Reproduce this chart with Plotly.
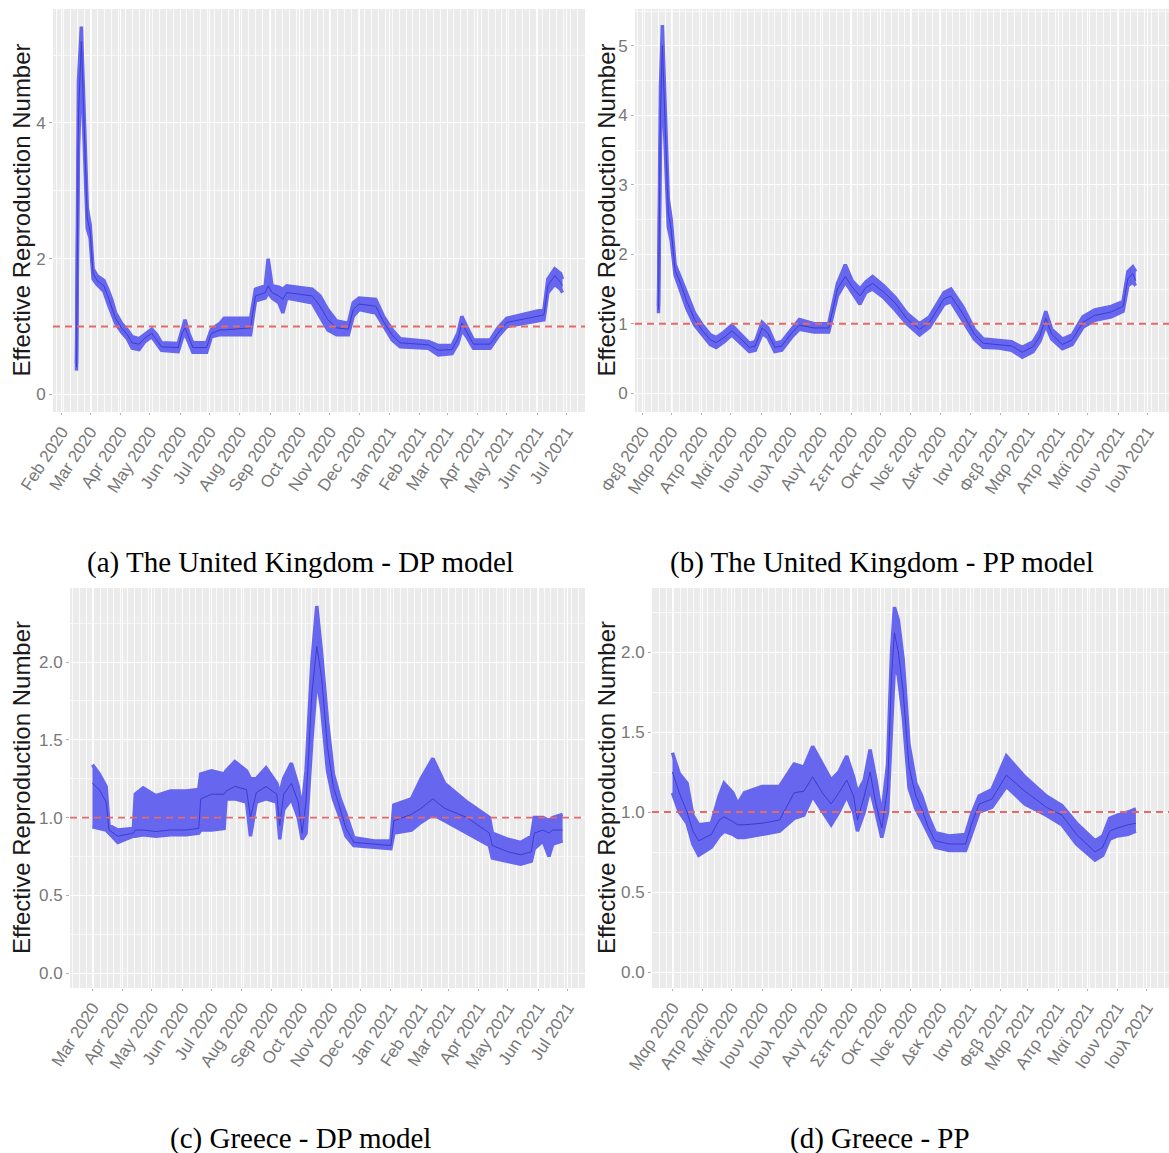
import plotly.graph_objects as go

# ---------------- data ----------------
A_dates = ["2020-02-16","2020-02-18","2020-02-21","2020-02-24","2020-02-27","2020-03-01","2020-03-04","2020-03-08",
           "2020-03-15","2020-03-19","2020-03-23","2020-03-27","2020-04-02","2020-04-08","2020-04-13","2020-04-20",
           "2020-04-26","2020-05-03","2020-05-08","2020-05-13","2020-05-30","2020-06-03","2020-06-06","2020-06-10",
           "2020-06-14","2020-06-28","2020-07-03","2020-07-12","2020-07-16","2020-08-12","2020-08-17","2020-08-27",
           "2020-08-30","2020-09-03","2020-09-10","2020-09-14","2020-09-18","2020-10-14","2020-10-22","2020-10-30",
           "2020-11-08","2020-11-20","2020-11-25","2020-12-01","2020-12-18","2020-12-26","2021-01-04","2021-01-12",
           "2021-02-10","2021-02-20","2021-03-06","2021-03-12","2021-03-16","2021-03-21","2021-03-28","2021-04-14",
           "2021-04-22","2021-05-01","2021-05-20","2021-06-08","2021-06-12","2021-06-19","2021-06-25","2021-06-27"]
A_lo = [0.35,3.6,4.9,3.5,2.45,2.3,1.7,1.62,1.52,1.35,1.2,1.05,0.92,0.82,0.68,0.66,0.78,0.85,0.75,0.65,0.63,0.82,0.9,0.75,
        0.62,0.62,0.85,0.88,0.88,0.88,1.38,1.42,1.5,1.42,1.35,1.2,1.42,1.35,1.15,0.95,0.88,0.88,1.15,1.25,1.2,1.0,0.8,0.7,
        0.68,0.58,0.6,0.75,0.95,0.85,0.68,0.68,0.85,1.0,1.05,1.1,1.5,1.62,1.55,1.5]
A_hi = [0.45,4.6,5.42,4.2,2.75,2.5,1.85,1.75,1.68,1.55,1.4,1.2,1.05,0.95,0.85,0.82,0.88,0.96,0.88,0.76,0.75,0.98,1.1,0.9,
        0.76,0.76,0.96,1.05,1.12,1.12,1.55,1.6,2.0,1.6,1.58,1.55,1.6,1.55,1.45,1.25,1.08,1.05,1.35,1.42,1.4,1.15,0.95,0.82,
        0.78,0.72,0.72,0.9,1.15,1.0,0.8,0.8,0.98,1.12,1.18,1.25,1.7,1.85,1.78,1.7]
A_mid = [0.4,4.1,5.2,3.85,2.6,2.4,1.78,1.68,1.6,1.45,1.3,1.12,0.98,0.88,0.76,0.74,0.83,0.9,0.8,0.7,0.69,0.9,0.98,0.82,
         0.69,0.69,0.9,0.95,0.95,0.98,1.45,1.5,1.6,1.5,1.45,1.4,1.5,1.45,1.3,1.1,0.98,0.96,1.25,1.33,1.3,1.07,0.87,0.76,
         0.73,0.65,0.66,0.82,1.05,0.92,0.74,0.74,0.9,1.06,1.12,1.17,1.6,1.75,1.65,1.6]

B_dates = ["2020-02-17","2020-02-19","2020-02-21","2020-02-24","2020-02-27","2020-03-01","2020-03-05","2020-03-10",
           "2020-03-17","2020-03-25","2020-04-02","2020-04-10","2020-04-16","2020-04-24","2020-05-02","2020-05-10",
           "2020-05-20","2020-05-26","2020-06-02","2020-06-08","2020-06-15","2020-06-22","2020-07-03","2020-07-10",
           "2020-07-25","2020-08-09","2020-08-18","2020-08-26","2020-09-02","2020-09-10","2020-09-16","2020-09-23",
           "2020-10-04","2020-10-16","2020-10-28","2020-11-10","2020-11-20","2020-12-05","2020-12-12","2020-12-24",
           "2021-01-05","2021-01-14","2021-01-30","2021-02-12","2021-02-23","2021-03-06","2021-03-13","2021-03-19",
           "2021-03-25","2021-04-05","2021-04-15","2021-04-26","2021-05-08","2021-05-25","2021-06-06","2021-06-11",
           "2021-06-16","2021-06-19"]
B_lo = [1.15,3.6,4.6,3.4,2.4,2.2,1.7,1.5,1.22,0.98,0.84,0.7,0.66,0.74,0.84,0.74,0.6,0.62,0.86,0.8,0.6,0.62,0.82,0.92,
        0.88,0.88,1.4,1.6,1.45,1.28,1.45,1.5,1.38,1.2,1.0,0.84,0.95,1.28,1.32,1.05,0.78,0.66,0.65,0.62,0.52,0.6,0.75,0.98,
        0.78,0.64,0.7,0.95,1.05,1.1,1.18,1.55,1.6,1.55]
B_hi = [1.25,4.4,5.3,4.0,2.8,2.5,1.85,1.68,1.42,1.15,0.98,0.84,0.8,0.88,0.98,0.86,0.72,0.74,1.02,0.94,0.72,0.74,0.94,1.06,
        1.0,1.0,1.58,1.85,1.62,1.5,1.6,1.68,1.55,1.38,1.15,1.0,1.1,1.45,1.5,1.25,0.92,0.78,0.76,0.74,0.66,0.74,0.9,1.18,
        0.92,0.78,0.84,1.1,1.2,1.25,1.32,1.75,1.82,1.75]
B_mid = [1.2,4.0,5.0,3.7,2.6,2.35,1.77,1.6,1.32,1.06,0.9,0.77,0.73,0.8,0.9,0.8,0.66,0.68,0.94,0.86,0.66,0.68,0.88,0.98,
         0.94,0.94,1.5,1.68,1.53,1.4,1.52,1.58,1.46,1.3,1.07,0.92,1.02,1.36,1.4,1.15,0.85,0.72,0.7,0.68,0.59,0.67,0.82,1.08,
         0.85,0.7,0.77,1.02,1.12,1.17,1.25,1.65,1.72,1.62]

C_dates = ["2020-03-01","2020-03-08","2020-03-15","2020-03-18","2020-03-27","2020-04-12","2020-04-14","2020-04-22",
           "2020-05-05","2020-05-20","2020-06-05","2020-06-18","2020-06-20","2020-07-01","2020-07-14","2020-07-16",
           "2020-07-25","2020-08-06","2020-08-10","2020-08-16","2020-08-26","2020-09-06","2020-09-09","2020-09-13",
           "2020-09-21","2020-09-28","2020-10-02","2020-10-06","2020-10-12","2020-10-17","2020-10-22","2020-10-28",
           "2020-11-03","2020-11-10","2020-11-16","2020-11-24","2020-12-15","2021-01-01","2021-01-04","2021-01-22",
           "2021-02-01","2021-02-13","2021-02-25","2021-03-20","2021-04-12","2021-04-15","2021-05-01","2021-05-14",
           "2021-05-25","2021-05-28","2021-06-06","2021-06-12","2021-06-16","2021-06-26"]
C_lo = [0.94,0.93,0.92,0.9,0.84,0.88,0.88,0.89,0.88,0.89,0.89,0.9,0.92,0.92,0.93,1.12,1.12,1.1,0.88,1.1,1.12,1.1,0.86,
        1.05,1.12,1.0,0.86,0.9,1.5,1.9,1.7,1.3,1.12,1.0,0.88,0.82,0.81,0.8,0.9,0.92,0.97,1.02,0.98,0.9,0.82,0.74,0.72,
        0.7,0.72,0.8,0.85,0.75,0.83,0.85]
C_hi = [1.34,1.28,1.2,0.95,0.92,0.93,1.15,1.19,1.14,1.17,1.17,1.18,1.28,1.3,1.28,1.3,1.36,1.3,1.25,1.25,1.32,1.22,1.15,
        1.25,1.35,1.2,1.05,1.3,2.0,2.36,2.05,1.62,1.28,1.12,1.02,0.87,0.85,0.85,1.08,1.12,1.25,1.38,1.22,1.1,1.0,0.9,0.86,
        0.84,0.88,1.0,1.0,0.98,1.0,1.02]
C_mid = [1.22,1.18,1.1,0.92,0.88,0.9,0.92,0.92,0.91,0.92,0.92,0.93,1.12,1.15,1.15,1.17,1.2,1.18,1.0,1.16,1.2,1.15,0.95,
         1.15,1.22,1.1,0.9,1.1,1.8,2.1,1.9,1.45,1.2,1.06,0.93,0.84,0.83,0.82,0.98,1.02,1.06,1.12,1.06,1.0,0.9,0.82,0.78,
         0.76,0.78,0.9,0.92,0.9,0.92,0.92]

D_dates = ["2020-03-01","2020-03-08","2020-03-16","2020-03-22","2020-03-28","2020-04-10","2020-04-18","2020-04-23",
           "2020-05-02","2020-05-07","2020-05-14","2020-06-01","2020-06-19","2020-07-04","2020-07-14","2020-07-23",
           "2020-08-02","2020-08-11","2020-08-19","2020-08-27","2020-09-03","2020-09-07","2020-09-14","2020-09-20",
           "2020-09-26","2020-10-02","2020-10-08","2020-10-12","2020-10-15","2020-10-19","2020-10-24","2020-10-30",
           "2020-11-06","2020-11-12","2020-11-19","2020-11-26","2020-12-10","2020-12-27","2021-01-02","2021-01-10",
           "2021-01-23","2021-02-07","2021-02-26","2021-03-20","2021-04-05","2021-04-20","2021-05-09","2021-05-17",
           "2021-05-24","2021-06-01","2021-06-12","2021-06-20"]
D_lo = [1.12,1.0,0.93,0.8,0.73,0.78,0.85,0.88,0.86,0.84,0.84,0.86,0.88,0.96,0.98,1.1,1.0,0.92,1.0,1.1,1.0,0.88,1.0,1.15,
        1.0,0.84,1.0,1.6,1.92,1.85,1.6,1.15,1.02,0.95,0.86,0.78,0.76,0.76,0.86,1.0,1.03,1.16,1.05,0.98,0.92,0.8,0.7,0.73,
        0.83,0.85,0.86,0.88]
D_hi = [1.37,1.24,1.18,0.98,0.92,0.93,1.1,1.18,1.12,1.05,1.12,1.16,1.16,1.3,1.28,1.41,1.3,1.2,1.25,1.35,1.22,1.12,1.2,
        1.39,1.2,0.98,1.3,2.0,2.28,2.2,1.95,1.42,1.18,1.1,0.97,0.87,0.85,0.86,0.98,1.1,1.14,1.35,1.22,1.1,1.04,0.93,0.82,
        0.85,0.96,0.98,1.0,1.02]
D_mid = [1.25,1.12,1.0,0.88,0.82,0.86,0.95,0.97,0.94,0.92,0.92,0.93,0.95,1.12,1.13,1.22,1.12,1.05,1.12,1.2,1.1,0.95,1.1,
         1.25,1.05,0.9,1.15,1.85,2.12,2.0,1.75,1.28,1.1,1.02,0.9,0.82,0.8,0.8,0.92,1.05,1.08,1.23,1.13,1.03,0.98,0.86,0.75,
         0.78,0.88,0.9,0.92,0.93]

REF_LINE = 1.0

TICKS_AB = ["2020-02-01","2020-03-01","2020-04-01","2020-05-01","2020-06-01","2020-07-01","2020-08-01","2020-09-01",
            "2020-10-01","2020-11-01","2020-12-01","2021-01-01","2021-02-01","2021-03-01","2021-04-01","2021-05-01",
            "2021-06-01","2021-07-01"]
LABELS_A = ["Feb 2020","Mar 2020","Apr 2020","May 2020","Jun 2020","Jul 2020","Aug 2020","Sep 2020","Oct 2020",
            "Nov 2020","Dec 2020","Jan 2021","Feb 2021","Mar 2021","Apr 2021","May 2021","Jun 2021","Jul 2021"]
LABELS_B = ["Φεβ 2020","Μαρ 2020","Απρ 2020","Μαϊ 2020","Ιουν 2020","Ιουλ 2020","Αυγ 2020","Σεπ 2020","Οκτ 2020",
            "Νοε 2020","Δεκ 2020","Ιαν 2021","Φεβ 2021","Μαρ 2021","Απρ 2021","Μαϊ 2021","Ιουν 2021","Ιουλ 2021"]
TICKS_CD = TICKS_AB[1:]
LABELS_C = LABELS_A[1:]
LABELS_D = LABELS_B[1:]

Y_TICKS_A = [0, 2, 4]
Y_TICKS_B = [0, 1, 2, 3, 4, 5]
Y_TICKS_CD = [0.0, 0.5, 1.0, 1.5, 2.0]

CAPTIONS = ["(a) The United Kingdom - DP model", "(b) The United Kingdom - PP model",
            "(c) Greece - DP model", "(d) Greece - PP"]
Y_TITLE = "Effective Reproduction Number"

# ---------------- figure ----------------
W, H = 1169, 1153
FILL = "rgb(102,102,238)"
LINE = "rgb(60,60,210)"
SANS = "Liberation Sans, Arial, sans-serif"
SERIF = "Liberation Serif, Times New Roman, serif"

fig = go.Figure()

panels = [
    dict(d=A_dates, lo=A_lo, hi=A_hi, mid=A_mid, ax="x", ay="y"),
    dict(d=B_dates, lo=B_lo, hi=B_hi, mid=B_mid, ax="x2", ay="y2"),
    dict(d=C_dates, lo=C_lo, hi=C_hi, mid=C_mid, ax="x3", ay="y3"),
    dict(d=D_dates, lo=D_lo, hi=D_hi, mid=D_mid, ax="x4", ay="y4"),
]
for p in panels:
    fig.add_trace(go.Scatter(x=p["d"], y=p["hi"], mode="lines", line=dict(width=3.5, color=FILL),
                             xaxis=p["ax"], yaxis=p["ay"], showlegend=False, hoverinfo="skip"))
    fig.add_trace(go.Scatter(x=p["d"], y=p["lo"], mode="lines", line=dict(width=3.5, color=FILL),
                             fill="tonexty", fillcolor=FILL,
                             xaxis=p["ax"], yaxis=p["ay"], showlegend=False, hoverinfo="skip"))
    fig.add_trace(go.Scatter(x=p["d"], y=p["mid"], mode="lines", line=dict(width=1, color=LINE),
                             xaxis=p["ax"], yaxis=p["ay"], showlegend=False))

def px(v):
    return v / W

def py(v):
    return 1 - v / H

xdom = [[px(53), px(585)], [px(635), 1.0], [px(70), px(585)], [px(652), 1.0]]
ydom = [[py(412), py(9)], [py(412), py(9)], [py(988), py(588)], [py(988), py(588)]]
xranges = [["2020-01-23", "2021-07-20"], ["2020-01-24", "2021-07-23"],
           ["2020-02-07", "2021-07-19"], ["2020-02-09", "2021-07-24"]]
yranges = [[-0.26, 5.68], [-0.27, 5.53], [-0.096, 2.476], [-0.1, 2.4]]
xticks = [(TICKS_AB, LABELS_A), (TICKS_AB, LABELS_B), (TICKS_CD, LABELS_C), (TICKS_CD, LABELS_D)]
yticks = [(Y_TICKS_A, [str(v) for v in Y_TICKS_A]), (Y_TICKS_B, [str(v) for v in Y_TICKS_B]),
          (Y_TICKS_CD, ["%.1f" % v for v in Y_TICKS_CD]), (Y_TICKS_CD, ["%.1f" % v for v in Y_TICKS_CD])]
ymin_dt = [1, 0.5, 0.25, 0.25]

tickfont = dict(family=SANS, size=17, color="#787878")
layout = {}
for i in range(4):
    sx = "xaxis" if i == 0 else "xaxis%d" % (i + 1)
    sy = "yaxis" if i == 0 else "yaxis%d" % (i + 1)
    anc_y = "y" if i == 0 else "y%d" % (i + 1)
    anc_x = "x" if i == 0 else "x%d" % (i + 1)
    layout[sx] = dict(domain=xdom[i], anchor=anc_y, type="date", range=xranges[i], automargin=False,
                      tickmode="array", tickvals=xticks[i][0], ticktext=xticks[i][1], tickangle=-57,
                      tickfont=tickfont, ticks="outside", ticklen=2, tickcolor="#b0b0b0",
                      showgrid=True, gridcolor="white", gridwidth=1.1, zeroline=False, showline=False,
                      minor=dict(tickmode="linear", tick0="2020-01-06", dtick=7 * 86400000,
                                 showgrid=True, gridcolor="rgba(255,255,255,0.8)", gridwidth=0.6, ticks=""))
    layout[sy] = dict(domain=ydom[i], anchor=anc_x, range=yranges[i], automargin=False,
                      tickmode="array", tickvals=yticks[i][0], ticktext=yticks[i][1],
                      tickfont=tickfont, ticks="outside", ticklen=3, tickcolor="#b0b0b0",
                      showgrid=True, gridcolor="white", gridwidth=1.1, zeroline=False, showline=False,
                      minor=dict(tickmode="linear", tick0=0, dtick=ymin_dt[i], showgrid=True,
                                 gridcolor="rgba(255,255,255,0.7)", gridwidth=0.6, ticks=""))

shapes = []
for i in range(4):
    xr = "x" if i == 0 else "x%d" % (i + 1)
    yr = "y" if i == 0 else "y%d" % (i + 1)
    shapes.append(dict(type="line", xref=xr + " domain", yref=yr, x0=0, x1=1, y0=REF_LINE, y1=REF_LINE,
                       line=dict(color="#E46A6A", width=1.8, dash="7px,5px"), layer="above"))

annotations = []
ytitle_x = [21, 606, 21, 606]
for i in range(4):
    yc = (ydom[i][0] + ydom[i][1]) / 2
    annotations.append(dict(text=Y_TITLE, x=px(ytitle_x[i]), y=yc, xref="paper", yref="paper",
                            textangle=-90, showarrow=False, xanchor="center", yanchor="middle",
                            font=dict(family=SANS, size=24, color="#1a1a1a")))
cap_pos = [(300, 562), (882, 562), (300, 1138), (880, 1138)]
for i in range(4):
    annotations.append(dict(text=CAPTIONS[i], x=px(cap_pos[i][0]), y=py(cap_pos[i][1]), xref="paper", yref="paper",
                            showarrow=False, xanchor="center", yanchor="middle",
                            font=dict(family=SERIF, size=29, color="#000000")))

fig.update_layout(width=W, height=H, margin=dict(l=0, r=0, t=0, b=0, autoexpand=False), autosize=False,
                  paper_bgcolor="white", plot_bgcolor="#EBEBEB", showlegend=False,
                  shapes=shapes, annotations=annotations, **layout)

fig.write_html("out.html")
